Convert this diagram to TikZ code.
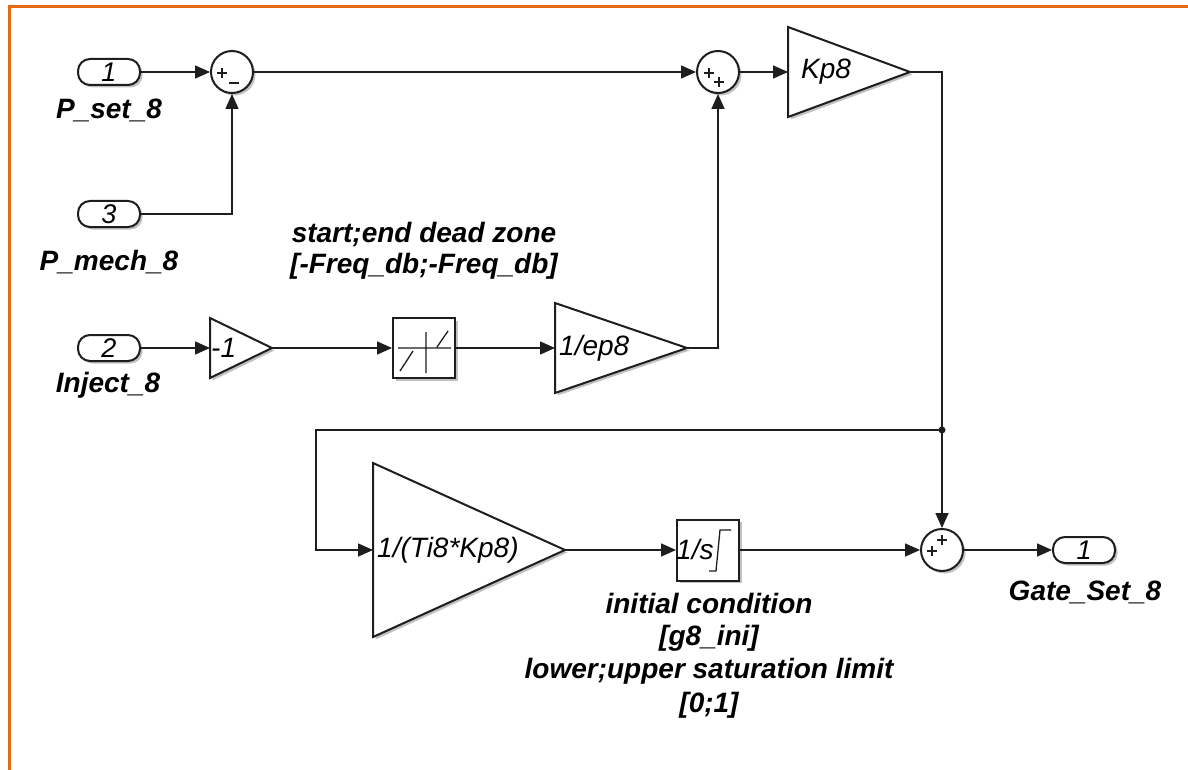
\documentclass[tikz,border=0pt]{standalone}
\usepackage{fontspec}
\setmainfont{Liberation Sans}
\usetikzlibrary{arrows.meta,shadows}
\definecolor{frameorange}{RGB}{230,108,18}
\definecolor{inkc}{RGB}{30,30,30}
\begin{document}
\begin{tikzpicture}[x=1pt,y=-1pt,
  wire/.style={line width=1.6pt, draw=inkc},
  arr/.style={wire,-{Triangle[length=15pt,width=13pt]}},
  blk/.style={draw=inkc, line width=2pt, fill=white, drop shadow={shadow xshift=2.5pt,shadow yshift=-2.5pt,opacity=0.4,fill=black!60}},
  port/.style={blk, rounded corners=12pt, minimum width=62pt, minimum height=26pt, inner sep=0pt, font=\fontsize{27}{27}\selectfont\itshape},
  sumblk/.style={blk, circle, minimum size=42pt, inner sep=0pt},
  lbl/.style={font=\fontsize{28}{31}\selectfont\bfseries\itshape, inner sep=0pt, anchor=base, align=center},
  btxt/.style={font=\fontsize{28}{28}\selectfont\itshape, inner sep=0pt, anchor=west},
  sgn/.style={line width=1.4pt, draw=inkc},
]
\useasboundingbox (0,0) rectangle (1188,770);
\fill[white] (0,0) rectangle (1188,770);
\draw[frameorange, line width=3pt] (9.5,770) -- (9.5,7) -- (1188,7);

% ports
\node[port] (in1) at (109,72) {1};
\node[port] (in3) at (109,214) {3};
\node[port] (in2) at (109,348) {2};
\node[port] (out1) at (1084,550) {1};
\node[lbl] (lin1) at (109,119) {P\_set\_8};
\node[lbl] (lin3) at (109,270) {P\_mech\_8};
\node[lbl] (lin2) at (108,392) {Inject\_8};
\node[lbl] (lout1) at (1085,600) {Gate\_Set\_8};

% sums
\node[sumblk] (sum1) at (232,72) {};
\node[sumblk] (sum2) at (718,72) {};
\node[sumblk] (sum3) at (942,550) {};
\draw[sgn] (217,73) -- (227,73) (222,68) -- (222,78);
\draw[sgn] (229,83) -- (239,83);
\draw[sgn] (704,73) -- (714,73) (709,68) -- (709,78);
\draw[sgn] (714,82) -- (724,82) (719,77) -- (719,87);
\draw[sgn] (927,551) -- (937,551) (932,546) -- (932,556);
\draw[sgn] (937,540) -- (947,540) (942,535) -- (942,545);

% gains
\path[blk] (788,27) -- (910,72) -- (788,117) -- cycle;
\coordinate (kpi) at (788,72); \coordinate (kpo) at (910,72);
\node[btxt] (kpt) at (801,72) {Kp8};

\path[blk] (210,318) -- (272,348) -- (210,378) -- cycle;
\coordinate (ngi) at (210,348); \coordinate (ngo) at (272,348);
\node[btxt] (ngt) at (211,348) {-1};

\path[blk] (555,303) -- (687,348) -- (555,393) -- cycle;
\coordinate (epi) at (555,348); \coordinate (epo) at (687,348);
\node[btxt] (ept) at (559,348) {1/ep8};

\path[blk] (373,463) -- (565,550) -- (373,637) -- cycle;
\coordinate (tii) at (373,550); \coordinate (tio) at (565,550);
\node[btxt] (tit) at (377,550) {1/(Ti8*Kp8)};

% dead zone
\node[blk, minimum width=62pt, minimum height=60pt, inner sep=0pt] (dz) at (424,348) {};
\draw[sgn, line width=1.3pt] (398,348) -- (451,348) (426,332) -- (426,373)
  (400,371) -- (413,351) (437,347) -- (448,331);
\node[lbl] (ldz) at (424,242) {start;end dead zone};
\node[lbl] (ldz2) at (424,273) {[-Freq\_db;-Freq\_db]};

% integrator
\node[blk, minimum width=62pt, minimum height=61pt, inner sep=0pt] (int) at (708,550) {};
\node[btxt] (intt) at (676,549) {1/s};
\draw[sgn, line width=1.3pt] (709,571) -- (716,571) -- (720,530) -- (731,530);
\node[lbl] (li1) at (709,613) {initial condition};
\node[lbl] (li2) at (709,645) {[g8\_ini]};
\node[lbl] (li3) at (709,678) {lower;upper saturation limit};
\node[lbl] (li4) at (709,712) {[0;1]};

% wires
\coordinate (jn) at (942,430);
\coordinate (bend) at (316,430);
\draw[arr] (in1) -- (sum1);
\draw[arr] (in3.east) -| (sum1.south);
\draw[arr] (sum1) -- (sum2);
\draw[arr] (sum2) -- (kpi);
\draw[wire] (kpo) -| (jn);
\draw[arr] (jn) -- (sum3.north);
\draw[arr] (jn) -- (bend) |- (tii);
\fill[inkc] (jn) circle (3.5);
\draw[arr] (in2) -- (ngi);
\draw[arr] (ngo) -- (dz.west);
\draw[arr] (dz.east) -- (epi);
\draw[arr] (epo) -| (sum2.south);
\draw[arr] (tio) -- (int.west);
\draw[arr] (int.east) -- (sum3.west);
\draw[arr] (sum3.east) -- (out1.west);
\end{tikzpicture}
\end{document}
